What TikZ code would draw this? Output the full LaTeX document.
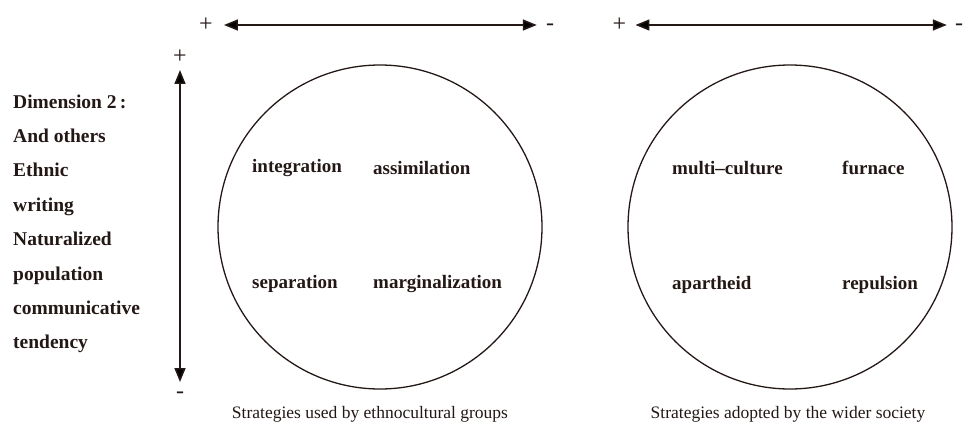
\documentclass[tikz,border=0pt]{standalone}
\usepackage{fontspec}
\setmainfont{Liberation Serif}
\usepackage{xcolor}
\usetikzlibrary{arrows.meta, positioning}

\definecolor{ink}{RGB}{35,24,21}

\tikzset{
    quad/.style={font=\fontsize{19}{19}\selectfont\bfseries, text=ink, anchor=base west, inner sep=0pt},
    dimtext/.style={font=\fontsize{19.5}{19.5}\selectfont\bfseries, text=ink, anchor=base west, inner sep=0pt},
    sign/.style={font=\fontsize{24}{24}\selectfont, text=ink, inner sep=0pt},
    axis/.style={{Triangle[length=14pt,width=11pt]}-{Triangle[length=14pt,width=11pt]}, draw=ink, line width=1.6pt},
    ring/.style={circle, draw=ink, line width=1.3pt, minimum size=324pt, inner sep=0pt},
    caption/.style={font=\fontsize{17.5}{17.5}\selectfont, text=ink, anchor=base, inner sep=0pt}
}

\begin{document}
\begin{tikzpicture}[x=1pt, y=-1pt]
        \useasboundingbox (0,0) rectangle (964,426);
%   dimension 1 (top) and dimension 2 (left)
        \node[sign] (plusA) at (206,25) {+};
        \node[sign] (minusA) at (550,27) {-};
        \node[sign] (plusB) at (619.5,25) {+};
        \node[sign] (minusB) at (959,27) {-};
        \node[sign] (plusV) at (180,57) {+};
        \node[sign] (minusV) at (180,395.5) {-};
        \path[axis]
        (plusA) edge [shorten <=11pt, shorten >=9pt] (minusA.west |- plusA)
        (plusB) edge [shorten <=9pt, shorten >=8pt] (minusB.west |- plusB)
        (plusV) edge [shorten <=6pt, shorten >=10pt] (minusV);
%
        \foreach \txt [count=\i] in {Dimension 2\,:, And others, Ethnic, writing,
            Naturalized, population, communicative, tendency}
            \node[dimtext] (dim\i) at (13, 73.6+34.4*\i) {\txt};
%   the two circles
        \node[ring] (groups) at (380,227) {};
        \node[ring] (society) at (790,227) {};
        \node[quad] (integ) at (252,172) {integration};
        \node[quad] (assim) at (373,174) {assimilation};
        \node[quad] (separ) at (252,288) {separation};
        \node[quad] (margin) at (373,288) {marginalization};
        \node[quad] (multi) at (672,174) {multi--culture};
        \node[quad] (furn) at (842,174) {furnace};
        \node[quad] (apart) at (672,289) {apartheid};
        \node[quad] (repul) at (842,289) {repulsion};
        %\node[caption, below=12pt of groups] ...
        \node[caption] (capA) at (370,418) {Strategies used by ethnocultural groups};
        \node[caption] (capB) at (788,418) {Strategies adopted by the wider society};
\end{tikzpicture}
\end{document}
